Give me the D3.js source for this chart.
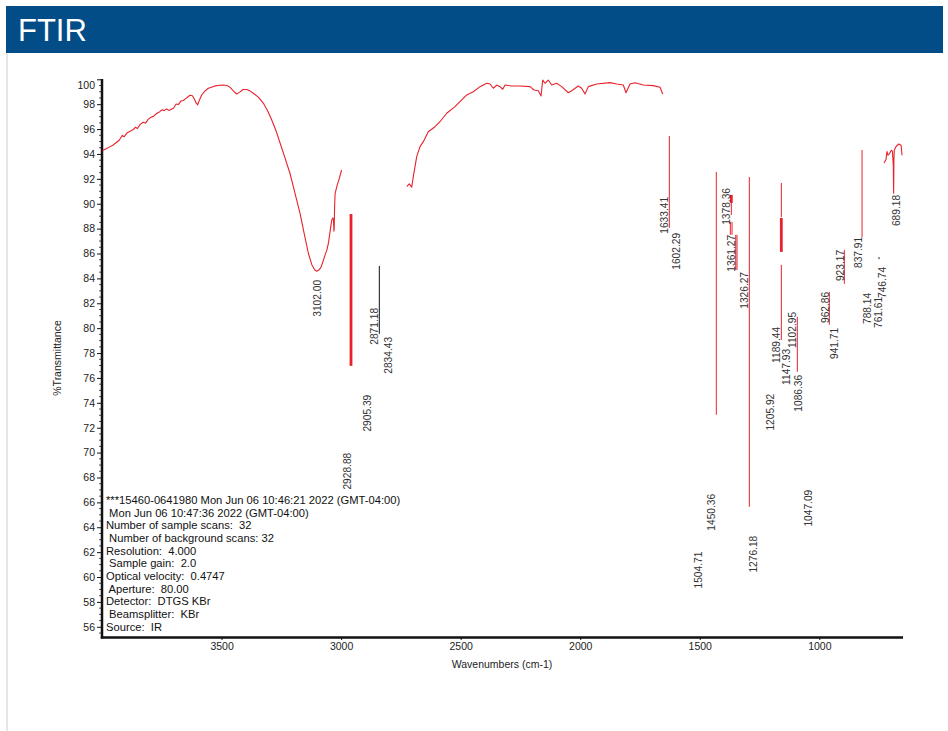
<!DOCTYPE html>
<html><head><meta charset="utf-8">
<script src="https://cdn.jsdelivr.net/npm/d3@7"></script>
<style>
html,body{margin:0;padding:0;background:#fff;}
svg{display:block;font-family:"Liberation Sans",Arial,Helvetica,sans-serif;}
</style></head><body>
<svg id="chart" width="948" height="731"></svg>
<script>
// ---- spectrum segments: [wavenumber cm-1, %T] ----
const spectrumHigh = [
  [3998,94.28],[3985,94.40],[3970,94.55],[3955,94.70],[3940,94.92],[3928,95.10],[3915,95.50],[3908,95.38],
  [3895,95.70],[3880,95.85],[3868,95.98],[3860,96.15],[3852,96.05],[3840,96.38],[3828,96.55],[3818,96.48],
  [3806,96.80],[3795,96.95],[3785,97.02],[3772,97.25],[3760,97.38],[3748,97.55],[3740,97.48],[3730,97.62],
  [3720,97.50],[3712,97.58],[3700,97.70],[3690,98.02],[3680,97.98],[3670,98.25],[3660,98.30],[3650,98.45],
  [3640,98.60],[3632,98.72],[3622,98.68],[3615,98.45],[3606,98.10],[3600,97.95],[3592,98.35],[3583,98.74],
  [3570,99.05],[3555,99.28],[3530,99.45],[3510,99.52],[3492,99.54],[3475,99.48],[3464,99.35],[3450,99.05],
  [3437,98.82],[3425,98.95],[3410,99.18],[3395,99.18],[3380,99.05],[3367,98.88],[3345,98.55],[3325,98.07],
  [3308,97.50],[3290,96.73],[3272,95.85],[3255,94.86],[3235,93.70],[3214,92.45],[3193,90.85],[3172,89.24],
  [3155,87.65],[3137,86.02],[3122,85.08],[3110,84.68],[3102,84.58],[3094,84.65],[3084,84.90],[3075,85.40],
  [3067,85.89],[3060,86.25],[3053,86.83],[3046,87.80],[3039,88.70],[3035,88.85],[3032,88.76],[3030,87.80],
  [3029,88.00],[3027,89.90],[3025,90.84],[3016,91.51],[3008,92.00],[2998,92.71]
];
const spectrumMid = [
  [2725.6,91.37],[2714.8,91.59],[2704.7,91.33],[2698.0,92.18],[2683.8,93.78],[2670.0,94.59],[2656.2,94.99],
  [2635.3,95.79],[2607.3,96.19],[2586.4,96.59],[2558.4,97.27],[2523.6,97.80],[2502.7,98.20],[2474.7,98.74],
  [2447.1,99.00],[2419.0,99.41],[2391.0,99.68],[2377.2,99.62],[2363.4,99.28],[2349.2,99.54],[2335.4,99.41],
  [2324.1,99.20],[2314.5,99.54],[2286.5,99.46],[2251.8,99.46],[2209.9,99.41],[2193.2,99.14],[2175.2,99.08],
  [2163.9,98.66],[2156.8,99.94],[2147.2,99.68],[2133.4,99.94],[2119.2,99.54],[2098.3,99.68],[2077.4,99.41],
  [2049.8,98.92],[2035.6,99.08],[2008.0,99.46],[1993.8,99.28],[1980.0,98.82],[1966.1,99.41],[1931.0,99.62],
  [1875.4,99.73],[1847.3,99.62],[1819.7,99.54],[1808.4,98.92],[1791.7,99.62],[1770.8,99.73],[1736.0,99.54],
  [1694.2,99.49],[1666.2,99.36],[1654.9,98.82]
];
const spectrumLow = [
  [729.5,93.27],[721.0,93.55],[717.0,94.20],[713.0,93.90],[707.5,94.00],[699.0,94.30],[694.0,94.20],
  [690.5,93.0],[689.18,90.85],[688.0,93.5],[686.5,94.30],[679.0,94.60],[668.0,94.80],[658.0,94.70],[654.0,93.90]
];

// ---- vertical strokes in the fingerprint region: wavenumber, top %T, bottom %T, kind ----
const strokeWn     = [2958.6, 2840.2, 1627.3, 1430.8, 1368.0, 1368.0, 1372.2, 1365.1, 1349.6, 1344.2, 1292.7, 1158.9, 1158.9, 1158.9, 1092.0, 958.2, 895.4, 821.3, 750.3];
const strokeTop    = [89.17, 85.00, 95.45, 92.55, 90.71, 90.06, 88.54, 88.54, 87.50, 87.50, 92.15, 91.67, 88.86, 85.09, 80.91, 82.92, 86.29, 94.32, 85.70];
const strokeBottom = [76.97, 79.54, 88.06, 73.04, 90.06, 89.10, 87.50, 87.50, 84.68, 84.68, 65.64, 88.94, 86.13, 79.06, 76.49, 80.27, 83.56, 87.33, 85.55];
const strokeKind   = ["thick","black","thin","thin","thick","thin","thin","thin","thin","thin","thin","thin","thick","thin","thin","thin","thin","thin","black"];

// ---- peak picks: wavenumber label and %T where the label starts ----
const peakWn = ["3102.00","2928.88","2905.39","2871.18","2834.43","1633.41","1602.29","1504.71","1450.36","1378.36",
  "1361.27","1326.27","1276.18","1205.92","1189.44","1147.93","1102.95","1086.36","1047.09","962.86",
  "941.71","923.17","837.91","788.14","761.61","746.74","689.18"];
const peakT = [84.52,70.63,75.29,82.27,79.94,91.19,88.30,62.68,67.33,91.91,
  88.14,85.16,63.96,75.37,80.75,78.98,81.95,76.89,67.66,83.56,
  80.67,86.93,87.98,83.48,83.16,85.57,91.35];
// horizontal nudges (px) that keep crowded labels apart
const labelNudge = [1,-11,4,3,8,-3,1,0,0,-2.5,-1.5,3,0,0,2.7,2.4,-2,0,0,-2.7,1,2.4,0.7,-3,2,2.6,3];

// ---- axes ----
const xTicks = [3500, 3000, 2500, 2000, 1500, 1000];
const yTicks = d3.range(56, 101, 2);

// ---- acquisition info ----
const infoLines = [
  "***15460-0641980 Mon Jun 06 10:46:21 2022 (GMT-04:00)",
  " Mon Jun 06 10:47:36 2022 (GMT-04:00)",
  "Number of sample scans:  32",
  " Number of background scans: 32",
  "Resolution:  4.000",
  " Sample gain:  2.0",
  "Optical velocity:  0.4747",
  " Aperture:  80.00",
  "Detector:  DTGS KBr",
  " Beamsplitter:  KBr",
  "Source:  IR"
];

const RED = "#e8222b";
const svg = d3.select("#chart");

// header band
svg.append("rect").attr("x", 6).attr("y", 6).attr("width", 937).attr("height", 47).attr("fill", "#024c87");
svg.append("text").attr("x", 18).attr("y", 41).attr("fill", "#fff").attr("font-size", 31).text("FTIR");
svg.append("rect").attr("x", 6).attr("y", 53).attr("width", 2).attr("height", 678).attr("fill", "#e6e6e6");

const x = d3.scaleLinear().domain([4000, 650]).range([102, 903]);
const y = d3.scaleLinear().domain([100, 55.1]).range([79.3, 638]);

// y axis
const gy = svg.append("g").attr("transform", "translate(102,0)")
  .call(d3.axisLeft(y).tickValues(yTicks).tickSize(5).tickSizeOuter(0).tickPadding(2));
gy.select(".domain").remove();
gy.selectAll(".tick line").attr("stroke", "#111");
gy.selectAll(".tick text").attr("font-size", 10.5).attr("fill", "#222")
  .attr("font-family", "Liberation Sans, Arial, sans-serif")
  .attr("dy", d => d === 100 ? "0.85em" : "0.32em");
const minorY = d3.range(55.5, 100, 0.5).filter(v => Math.abs(v % 2) > 0.01);
svg.append("g").selectAll("line").data(minorY).join("line")
  .attr("x1", 99).attr("x2", 102).attr("y1", d => y(d)).attr("y2", d => y(d))
  .attr("stroke", "#222").attr("stroke-width", 0.8);

// x axis
const gx = svg.append("g").attr("transform", "translate(0,637)")
  .call(d3.axisBottom(x).tickValues(xTicks).tickSize(3).tickSizeOuter(0).tickPadding(3).tickFormat(d3.format("d")));
gx.select(".domain").remove();
gx.selectAll(".tick line").attr("stroke", "#111");
gx.selectAll(".tick text").attr("font-size", 10.5).attr("fill", "#222")
  .attr("font-family", "Liberation Sans, Arial, sans-serif");

// axis frame lines
svg.append("line").attr("x1", 102).attr("x2", 102).attr("y1", 79).attr("y2", 638.5)
  .attr("stroke", "#111").attr("stroke-width", 2.5);
svg.append("line").attr("x1", 100.8).attr("x2", 903).attr("y1", 637.5).attr("y2", 637.5)
  .attr("stroke", "#111").attr("stroke-width", 2.5);

// axis titles
svg.append("text").attr("transform", "translate(57,358) rotate(-90)").attr("text-anchor", "middle")
  .attr("dy", "0.35em").attr("font-size", 10.5).attr("fill", "#222").text("%Transmittance");
svg.append("text").attr("x", 502).attr("y", 664).attr("text-anchor", "middle")
  .attr("dy", "0.35em").attr("font-size", 10.5).attr("fill", "#222").text("Wavenumbers (cm-1)");

// spectrum
const line = d3.line().x(d => x(d[0])).y(d => y(d[1]));
[spectrumHigh, spectrumMid, spectrumLow].forEach(seg => {
  svg.append("path").datum(seg).attr("d", line).attr("fill", "none")
    .attr("stroke", RED).attr("stroke-width", 1.1).attr("stroke-linejoin", "round");
});

// vertical strokes
svg.append("g").selectAll("line").data(strokeWn).join("line")
  .attr("x1", d => x(d)).attr("x2", d => x(d))
  .attr("y1", (d, i) => y(strokeTop[i])).attr("y2", (d, i) => y(strokeBottom[i]))
  .attr("stroke", (d, i) => strokeKind[i] === "black" ? "#111" : RED)
  .attr("stroke-width", (d, i) => strokeKind[i] === "thick" ? 2.8 : 1);

// peak labels
svg.append("g").selectAll("text").data(peakWn).join("text")
  .attr("transform", (d, i) => `translate(${x(+d) + labelNudge[i]},${y(peakT[i]) + 8}) rotate(-90)`)
  .attr("text-anchor", "end").attr("dy", "0.35em")
  .attr("font-size", 10.2).attr("fill", "#333").text(d => d);

// info block
svg.append("g").selectAll("text").data(infoLines).join("text")
  .attr("x", 106).attr("y", (d, i) => 500 + i * 12.67).attr("dy", "0.35em")
  .attr("xml:space", "preserve").style("white-space", "pre")
  .attr("font-size", 11.2).attr("fill", "#111").text(d => d);
</script></body></html>
